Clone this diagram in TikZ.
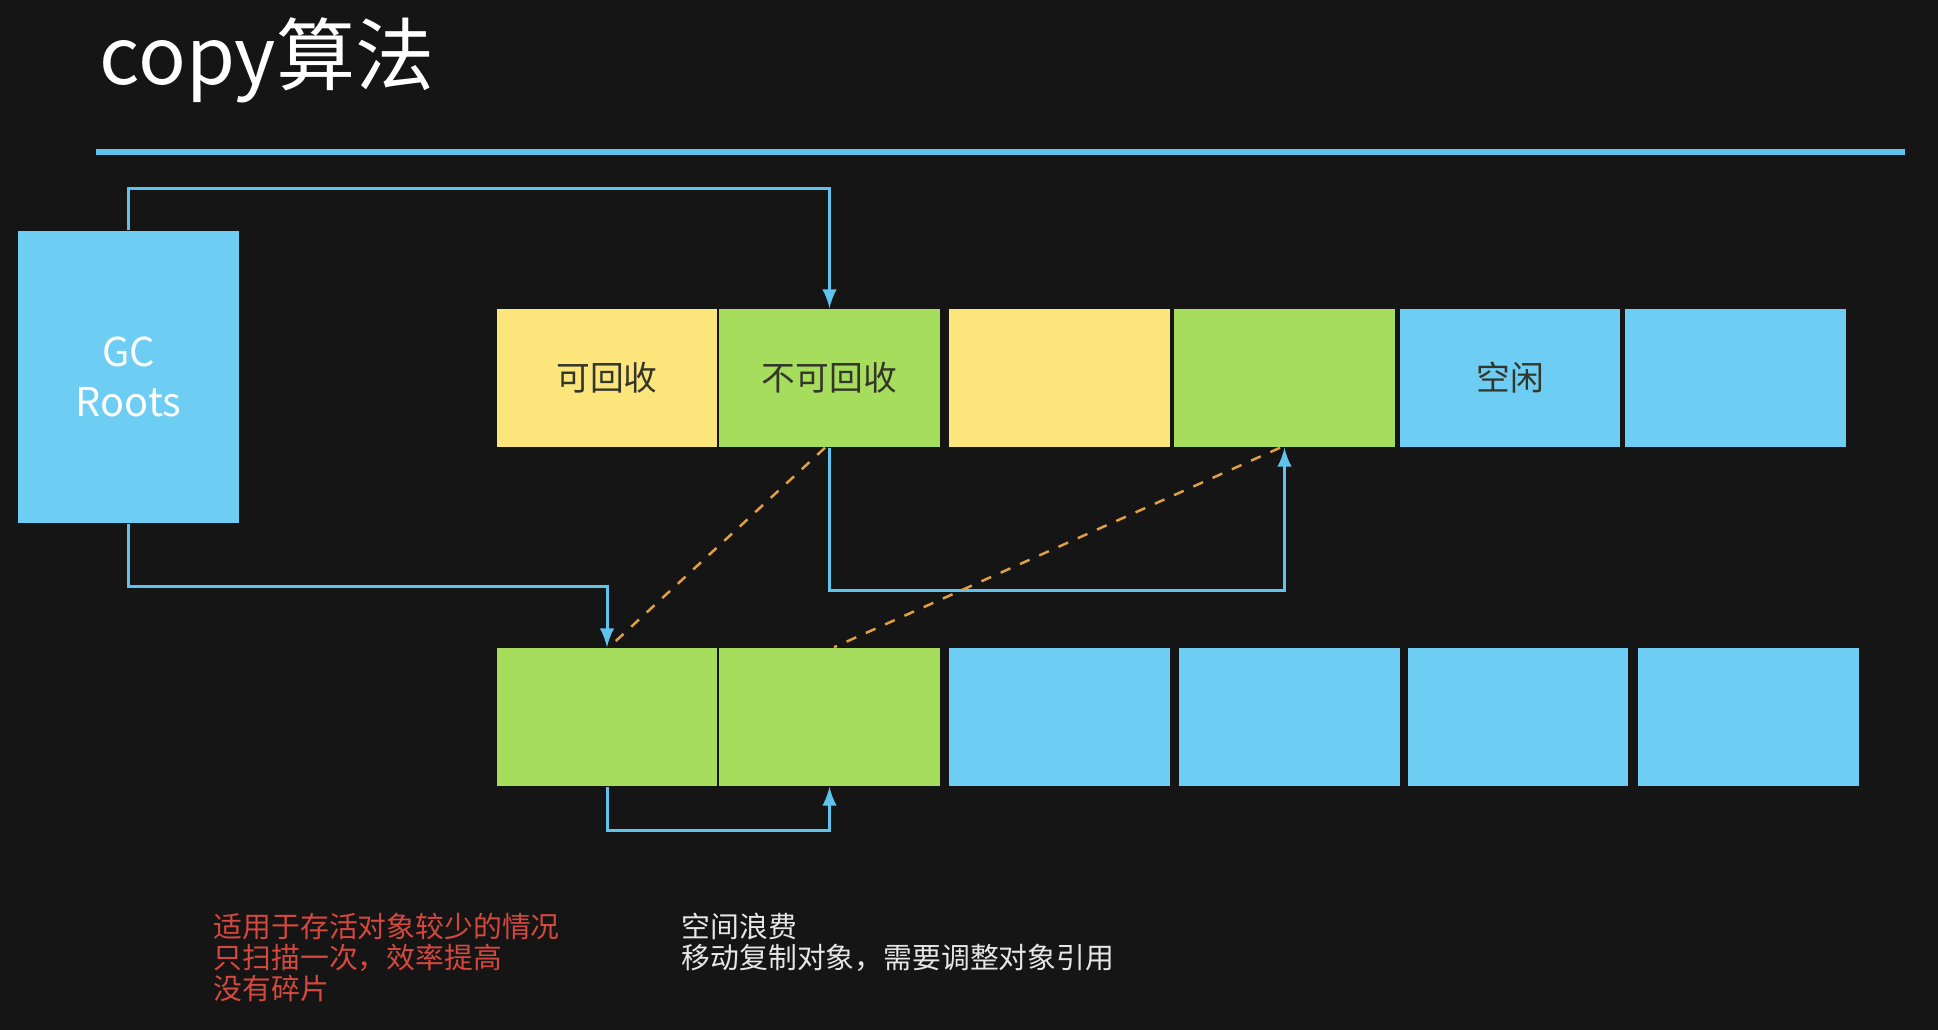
\documentclass[tikz,border=0pt]{standalone}
\usepackage{fontspec}
\setmainfont{Noto Sans CJK SC}
\definecolor{board}{HTML}{151515}
\definecolor{rule}{HTML}{5EC4EE}
\definecolor{freecell}{HTML}{6DCDF3}
\definecolor{livecell}{HTML}{A6DD5C}
\definecolor{deadcell}{HTML}{FCE57A}
\definecolor{celltext}{HTML}{33362A}
\definecolor{copyline}{HTML}{E0A040}
\definecolor{procolor}{HTML}{D4483E}
\definecolor{concolor}{HTML}{E6E6E6}
\begin{document}
\begin{tikzpicture}[x=0.01cm,y=-0.01cm,
    cell/.style={minimum width=2.2cm,minimum height=1.38cm,inner sep=0pt,
      text=celltext,font=\fontsize{9.6pt}{10pt}\selectfont},
    conn/.style={draw=rule,line width=0.3mm},
    note/.style={anchor=west,inner sep=0pt,font=\fontsize{8.2pt}{8.8pt}\selectfont}]
  \fill[board] (0,0) rectangle (1938,1030);
  \useasboundingbox (0,0) rectangle (1938,1030);
  \node[anchor=west,inner sep=0pt,text=white,font=\fontsize{22.5pt}{27pt}\selectfont] (title) at (99,60) {copy算法};
  \draw[rule,line width=0.55mm] (96,152) -- (1905,152);
  \node[fill=freecell,minimum width=2.2cm,minimum height=2.92cm,inner sep=0pt,align=center,
    text=white,font=\fontsize{11.3pt}{14.2pt}\selectfont] (gc) at (128.5,377) {GC\\Roots};
  \node[cell,fill=deadcell] (top1) at (607,378) {可回收};
  \node[cell,fill=livecell] (top2) at (829.5,378) {不可回收};
  \node[cell,fill=deadcell] (top3) at (1059.5,378) {};
  \node[cell,fill=livecell] (top4) at (1284.5,378) {};
  \node[cell,fill=freecell] (top5) at (1510,378) {空闲};
  \node[cell,fill=freecell] (top6) at (1735.5,378) {};
  \node[cell,fill=livecell] (bot1) at (607,717) {};
  \node[cell,fill=livecell] (bot2) at (829.5,717) {};
  \node[cell,fill=freecell] (bot3) at (1059.5,717) {};
  \node[cell,fill=freecell] (bot4) at (1289.5,717) {};
  \node[cell,fill=freecell] (bot5) at (1518,717) {};
  \node[cell,fill=freecell] (bot6) at (1748.5,717) {};
  \coordinate (topbus) at (0,188);
  \coordinate (gcbus) at (0,586);
  \coordinate (movebus) at (0,590);
  \coordinate (botbus) at (0,830);
  \draw[conn,-latex] (gc.north) -- (gc.north |- topbus) -| (top2.north);
  \draw[conn,-latex] (gc.south) -- (gc.south |- gcbus) -| (bot1.north);
  \draw[conn,-latex] (top2.south) -- (top2.south |- movebus) -| (top4.south);
  \draw[conn,-latex] (bot1.south) -- (bot1.south |- botbus) -| (bot2.south);
  \draw[copyline,dashed,line width=0.25mm] ([xshift=-0.045cm]top2.south) -- ([xshift=0.02cm]bot1.north);
  \draw[copyline,dashed,line width=0.25mm] ([xshift=-0.045cm]top4.south) -- ([xshift=0.045cm]bot2.north);
  \node[note,text=procolor] (pro1) at (213,927) {适用于存活对象较少的情况};
  \node[note,text=procolor] (pro2) at (213,958) {只扫描一次，效率提高};
  \node[note,text=procolor] (pro3) at (213,989) {没有碎片};
  \node[note,text=concolor] (con1) at (681,927) {空间浪费};
  \node[note,text=concolor] (con2) at (681,958) {移动复制对象，需要调整对象引用};
\end{tikzpicture}
\end{document}
